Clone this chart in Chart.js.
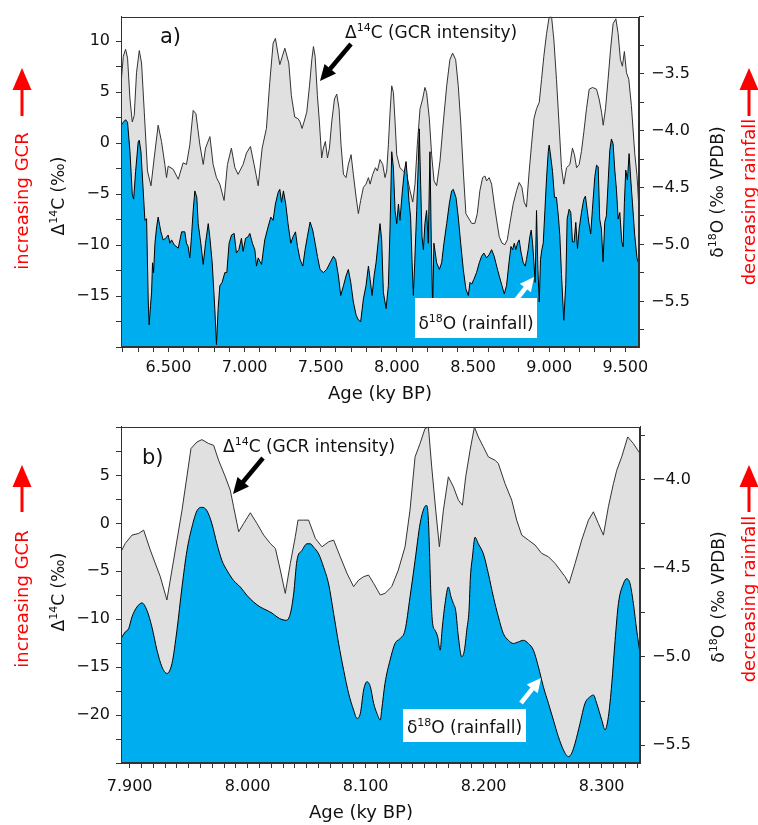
<!DOCTYPE html>
<html lang="en">
<head>
<meta charset="utf-8">
<title>GCR intensity and rainfall</title>
<script src="https://cdn.jsdelivr.net/npm/chart.js"></script>
<style>
  html, body { margin: 0; padding: 0; background: #fff; }
  #wrap { position: relative; width: 758px; height: 825px; }
  canvas { position: absolute; left: 0; }
  #panelA { top: 0; }
  #panelB { top: 410px; }
</style>
</head>
<body>
<div id="wrap">
  <canvas id="panelA" width="758" height="410"></canvas>
  <canvas id="panelB" width="758" height="415"></canvas>
</div>
<script>
// ---------- panel a) 6.2 - 9.6 ky BP ----------
var aAgeC14 = [
  6.188, 6.203, 6.218, 6.231, 6.247, 6.262, 6.275, 6.290, 6.308, 6.323,
  6.341, 6.362, 6.385, 6.406, 6.432, 6.454, 6.476, 6.487, 6.498, 6.531,
  6.564, 6.596, 6.618, 6.640, 6.662, 6.680, 6.706, 6.728, 6.743, 6.772,
  6.793, 6.815, 6.837, 6.865, 6.887, 6.913, 6.936, 6.957, 6.990, 7.012,
  7.038, 7.062, 7.089, 7.115, 7.143, 7.165, 7.187, 7.202, 7.231, 7.264,
  7.290, 7.307, 7.329, 7.351,
  7.364, 7.377, 7.390, 7.408, 7.426, 7.441, 7.452, 7.463, 7.478, 7.491,
  7.506, 7.517, 7.530, 7.544, 7.557, 7.572, 7.590, 7.605, 7.620, 7.633,
  7.649, 7.666, 7.681, 7.699, 7.714, 7.732, 7.747, 7.762, 7.780, 7.797,
  7.813, 7.824, 7.841, 7.859, 7.872, 7.889, 7.907, 7.922, 7.933, 7.944,
  7.955, 7.966, 7.977, 7.988, 7.999, 8.020, 8.042, 8.064, 8.086, 8.104,
  8.119, 8.134, 8.152, 8.169, 8.184, 8.195, 8.213, 8.228, 8.244, 8.261,
  8.283, 8.305, 8.327, 8.348, 8.366, 8.386, 8.403, 8.419, 8.436, 8.453,
  8.491, 8.512, 8.528, 8.545, 8.563, 8.578, 8.589, 8.606, 8.622, 8.639,
  8.655, 8.672, 8.690, 8.709, 8.725, 8.742, 8.764, 8.786, 8.803, 8.821,
  8.836, 8.851, 8.869, 8.884, 8.900, 8.917, 8.935, 8.950, 8.965, 8.983,
  9.000, 9.016, 9.031, 9.048, 9.064, 9.081, 9.096, 9.114, 9.136, 9.153,
  9.166, 9.180, 9.197, 9.212, 9.228, 9.245, 9.263, 9.285, 9.311, 9.328,
  9.344, 9.355, 9.370, 9.387, 9.403, 9.420, 9.438, 9.453, 9.468, 9.481,
  9.494, 9.508, 9.523, 9.540, 9.562, 9.577, 9.591
];
var aC14 = [
  5.77, 8.50, 9.20, 8.33, 4.32, 2.07, 2.71, 6.89, 9.07, 7.85,
  3.03, -2.74, -4.19, -1.46, 1.75, 0.15, -2.10, -3.39, -2.26, -2.58,
  -3.55, -1.94, -2.10, -0.18, 3.20, 2.88, -0.18, -2.10, -0.50, 0.63,
  -2.10, -3.39, -4.03, -5.63, -2.10, -0.50, -2.42, -3.07, -2.10, -0.98,
  -0.34, -2.10, -4.19, -0.50, 1.43, 5.93, 9.78, 10.26, 7.69, 9.30,
  7.85, 4.64, 2.55, 2.39,
  2.07, 1.43, 2.07, 3.03, 5.61, 8.17, 9.46, 8.50, 4.64, 2.07,
  -1.46, -0.50, 0.15, -1.46, -0.50, 2.07, 4.32, 4.80, 3.36, -0.18,
  -3.07, -3.39, -2.10, -1.14, -3.07, -5.31, -6.92, -5.63, -4.35, -4.03,
  -3.39, -4.03, -3.07, -2.42, -2.74, -1.62, -2.10, -3.39, -2.74, -0.18,
  3.03, 5.61, 4.96, 2.07, -1.14, -2.42, -2.74, -3.07, -4.67, -5.79,
  -4.03, -0.18, 3.36, 4.32, 5.45, 4.96, 2.39, -1.14, -3.71, -4.19,
  -1.78, 2.07, 5.61, 8.17, 8.82, 8.17, 5.61, 2.07, -2.74, -6.92,
  -7.88, -7.88, -6.92, -4.67, -3.39, -3.23, -3.71, -3.39, -4.03, -5.96,
  -7.56, -9.17, -9.81, -9.97, -9.49, -7.88, -5.96, -4.67, -3.87, -4.35,
  -5.80, -6.28, -2.74, -0.18, 2.39, 3.36, 4.00, 6.25, 8.50, 10.74,
  12.35, 12.35, 10.10, 6.25, 2.07, -2.42, -4.03, -2.42, -2.10, -0.50,
  -1.14, -2.42, -2.10, -0.82, 1.11, 3.36, 5.28, 5.45, 5.28, 4.32,
  3.03, 1.75, 3.36, 6.25, 9.14, 11.71, 12.19, 10.74, 8.17, 7.53,
  8.98, 6.89, 6.25, 3.68, -1.00, -3.20, -6.80
];
var aAgeO18 = [
  6.187, 6.203, 6.218, 6.231, 6.247, 6.262, 6.271, 6.284, 6.301, 6.308,
  6.319, 6.334, 6.345, 6.356, 6.367, 6.373, 6.382, 6.389, 6.395, 6.402,
  6.411, 6.422, 6.432, 6.450, 6.465, 6.481, 6.498, 6.509, 6.520, 6.537,
  6.564, 6.575, 6.586, 6.607, 6.618, 6.629, 6.640, 6.651, 6.662, 6.673,
  6.686, 6.695, 6.712, 6.728, 6.743, 6.761, 6.771, 6.787, 6.804, 6.815,
  6.826, 6.837, 6.852, 6.870, 6.883, 6.898, 6.914, 6.931, 6.946, 6.962,
  6.979, 6.990, 7.006, 7.023, 7.034, 7.051, 7.067, 7.078, 7.089, 7.100,
  7.111, 7.132, 7.154, 7.172, 7.187, 7.202, 7.220, 7.231, 7.242, 7.255,
  7.270, 7.285, 7.303, 7.318, 7.334, 7.347,
  7.364, 7.382, 7.397, 7.412, 7.430, 7.447, 7.463, 7.478, 7.495, 7.517,
  7.539, 7.561, 7.583, 7.598, 7.616, 7.631, 7.649, 7.666, 7.681, 7.697,
  7.714, 7.732, 7.747, 7.762, 7.780, 7.797, 7.813, 7.824, 7.837, 7.850,
  7.863, 7.876, 7.889, 7.900, 7.911, 7.929, 7.944, 7.955, 7.966, 7.977,
  7.988, 7.999, 8.010, 8.020, 8.036, 8.049, 8.060, 8.069, 8.079, 8.090,
  8.099, 8.108, 8.117, 8.130, 8.141, 8.147, 8.156, 8.165, 8.174, 8.184,
  8.195, 8.206, 8.217, 8.226, 8.235, 8.243, 8.261, 8.279, 8.294, 8.309,
  8.327, 8.344, 8.359, 8.370, 8.388, 8.403, 8.419, 8.436, 8.453, 8.469,
  8.480,
  8.491, 8.506, 8.523, 8.541, 8.556, 8.571, 8.589, 8.606, 8.622, 8.639,
  8.655, 8.672, 8.690, 8.705, 8.720, 8.736, 8.749, 8.760, 8.771, 8.781,
  8.792, 8.803, 8.816, 8.830, 8.843, 8.851, 8.862, 8.873, 8.882, 8.891,
  8.900, 8.908, 8.917, 8.926, 8.935, 8.943, 8.952, 8.961, 8.972, 8.983,
  8.994, 9.000, 9.009, 9.022, 9.035, 9.048, 9.061,
  9.070, 9.081, 9.096, 9.109, 9.118, 9.131, 9.142, 9.153, 9.164, 9.175,
  9.186, 9.197, 9.212, 9.227, 9.238, 9.249, 9.260, 9.273, 9.284, 9.300,
  9.311, 9.322, 9.332, 9.343, 9.354, 9.365, 9.376, 9.387, 9.398, 9.409,
  9.420, 9.431, 9.442, 9.453, 9.464, 9.477, 9.486, 9.494, 9.503, 9.514,
  9.525, 9.536, 9.547, 9.562, 9.577, 9.591
];
var aO18 = [
  -3.956, -3.928, -3.905, -3.928, -4.186, -4.559, -4.602, -4.358, -4.100, -4.085,
  -4.186, -4.530, -4.788, -4.774, -5.505, -5.706, -5.534, -5.419, -5.161, -5.247,
  -4.989, -4.846, -4.760, -4.889, -4.960, -4.946, -4.917, -4.989, -4.960, -5.003,
  -5.032, -4.960, -4.889, -4.889, -4.989, -5.018, -5.118, -4.932, -4.702, -4.530,
  -4.587, -4.817, -4.989, -5.175, -4.989, -4.817, -4.932, -5.161, -5.563, -5.878,
  -5.563, -5.362, -5.333, -5.247, -5.247, -4.989, -4.917, -4.903, -5.075, -5.046,
  -4.946, -5.061, -4.946, -4.932, -4.903, -4.989, -5.046, -5.190, -5.118, -5.147,
  -5.175, -4.960, -4.846, -4.760, -4.788, -4.645, -4.544, -4.516, -4.630, -4.530,
  -4.645, -4.817, -4.989, -4.932, -4.889, -5.018,
  -5.132, -5.190, -5.046, -4.932, -4.803, -4.874, -4.989, -5.104, -5.219, -5.247,
  -5.219, -5.161, -5.104, -5.132, -5.276, -5.448, -5.362, -5.276, -5.219, -5.333,
  -5.505, -5.620, -5.663, -5.678, -5.477, -5.362, -5.190, -5.305, -5.448, -5.276,
  -5.161, -4.989, -4.817, -4.960, -5.419, -5.563, -5.362, -4.846, -4.186, -4.329,
  -4.702, -4.817, -4.645, -4.788, -4.530, -4.358, -4.272, -4.415, -4.616, -4.760,
  -5.132, -5.448, -5.161, -4.702, -4.272, -3.985, -4.473, -4.932, -5.046, -4.817,
  -4.702, -4.989, -4.186, -4.989, -5.563, -4.989, -5.161, -5.219, -5.161, -4.989,
  -4.817, -4.645, -4.530, -4.516, -4.587, -4.760, -4.989, -5.219, -5.391, -5.448,
  -5.333,
  -5.348, -5.305, -5.247, -5.161, -5.104, -5.075, -5.118, -5.089, -5.046, -5.104,
  -5.190, -5.276, -5.362, -5.434, -5.362, -5.161, -5.018, -5.046, -4.989, -5.046,
  -4.989, -4.960, -5.075, -5.161, -5.190, -5.132, -5.046, -4.932, -4.874, -4.989,
  -5.161, -5.333, -4.702, -5.219, -5.505, -5.132, -5.046, -4.989, -4.702, -4.415,
  -4.186, -4.128, -4.215, -4.358, -4.587, -4.587, -4.760,
  -4.920, -5.265, -5.666, -5.351, -4.777, -4.691, -4.720, -4.978, -4.978, -4.806,
  -5.035, -4.863, -4.720, -4.605, -4.576, -4.691, -4.806, -4.906, -4.691, -4.404,
  -4.304, -4.318, -4.777, -4.863, -5.150, -4.806, -4.748, -4.461, -4.175, -4.074,
  -4.117, -4.347, -4.519, -4.777, -4.720, -4.978, -5.021, -4.634, -4.347, -4.433,
  -4.203, -4.433, -4.634, -4.920, -5.121, -5.179
];
var aAgeLabels = [6.5, 7.0, 7.5, 8.0, 8.5, 9.0, 9.5];
var aC14Labels = [-15, -10, -5, 0, 5, 10];
var aO18Labels = [-5.5, -5.0, -4.5, -4.0, -3.5];

// ---------- panel b) 7.9 - 8.33 ky BP ----------
var bAgeC14 = [
  7.8927, 7.8963, 7.9020, 7.9076, 7.9119, 7.9175, 7.9260, 7.9316, 7.9373, 7.9444,
  7.9520, 7.9571, 7.9613, 7.9670, 7.9712, 7.9754, 7.9811, 7.9853, 7.9881, 7.9910,
  7.9924, 7.9966, 8.0023, 8.0079, 8.0136, 8.0192, 8.0235, 8.0277, 8.0319, 8.0362,
  8.0404, 8.0427, 8.0475, 8.0517, 8.0574, 8.0630, 8.0687, 8.0729, 8.0785, 8.0842,
  8.0898, 8.0941, 8.0983, 8.1025, 8.1068, 8.1124, 8.1164, 8.1221, 8.1277, 8.1334,
  8.1376, 8.1419, 8.1461, 8.1503, 8.1532, 8.1560, 8.1594, 8.1625, 8.1659, 8.1701,
  8.1744, 8.1786, 8.1820, 8.1848, 8.1885, 8.1922, 8.1955, 8.1998, 8.2040, 8.2097,
  8.2125, 8.2181, 8.2238, 8.2280, 8.2323, 8.2379, 8.2436, 8.2492, 8.2549, 8.2605,
  8.2648, 8.2690, 8.2724, 8.2775, 8.2831, 8.2888, 8.2930, 8.2972, 8.3015, 8.3057,
  8.3100, 8.3128, 8.3170, 8.3221, 8.3269, 8.3325
];
var bC14 = [
  -2.96, -2.09, -1.22, -1.05, -0.70, -2.78, -5.56, -7.99, -3.83, 1.38,
  7.81, 8.50, 8.74, 8.33, 8.15, 6.59, 4.86, 3.47, 1.73, -0.01,
  -0.87, -0.01, 1.11, -0.01, -1.22, -2.09, -2.61, -4.87, -7.30, -4.17,
  -1.39, 0.34, 0.34, 0.34, -1.57, -2.44, -1.92, -1.74, -3.48, -5.21,
  -6.60, -5.91, -5.56, -5.39, -6.26, -7.47, -7.30, -6.60, -4.87, -2.44,
  1.38, 6.94, 8.33, 9.89, 10.06, 5.90, 1.38, -2.44, 1.38, 4.86,
  3.81, 2.43, 1.90, 4.86, 7.63, 10.06, 9.02, 7.98, 6.94, 6.59,
  6.24, 4.16, 2.43, 0.34, -1.22, -1.74, -2.26, -3.13, -3.48, -4.17,
  -4.87, -5.56, -6.26, -4.17, -1.74, 0.34, 1.21, -0.01, -1.22, 1.73,
  4.16, 5.55, 6.94, 9.02, 8.33, 7.29
];
var bAgeO18 = [
  7.8927, 7.8963, 7.8992, 7.9020, 7.9062, 7.9105, 7.9147, 7.9189, 7.9232, 7.9274,
  7.9316, 7.9359, 7.9401, 7.9444, 7.9486, 7.9528, 7.9571, 7.9613, 7.9655, 7.9698,
  7.9740, 7.9782, 7.9825, 7.9881, 7.9938, 7.9994, 8.0051, 8.0107, 8.0164, 8.0206,
  8.0249, 8.0291, 8.0328, 8.0362, 8.0390, 8.0418, 8.0460, 8.0503, 8.0531, 8.0559,
  8.0602, 8.0644, 8.0686, 8.0729, 8.0771, 8.0814, 8.0856, 8.0898, 8.0927, 8.0955,
  8.0983, 8.1011, 8.1040, 8.1068, 8.1096, 8.1124,
  8.1136, 8.1164, 8.1207, 8.1249, 8.1292, 8.1334, 8.1376, 8.1419, 8.1461, 8.1498,
  8.1518, 8.1532, 8.1554, 8.1568, 8.1588, 8.1611, 8.1631, 8.1650, 8.1673, 8.1701,
  8.1724, 8.1744, 8.1763, 8.1786, 8.1814, 8.1837, 8.1857, 8.1876, 8.1888, 8.1905,
  8.1927, 8.1955, 8.1998, 8.2040, 8.2083, 8.2125, 8.2167, 8.2210, 8.2252, 8.2295,
  8.2337, 8.2379, 8.2422, 8.2464, 8.2506, 8.2549, 8.2591, 8.2633, 8.2676, 8.2718,
  8.2746, 8.2775, 8.2817, 8.2859, 8.2902, 8.2930, 8.2958, 8.3001, 8.3029, 8.3057,
  8.3086, 8.3114, 8.3142, 8.3184, 8.3213, 8.3241, 8.3269, 8.3297, 8.3325
];
var bO18 = [
  -4.897, -4.860, -4.841, -4.775, -4.719, -4.696, -4.738, -4.832, -4.963, -5.057,
  -5.094, -5.038, -4.850, -4.606, -4.400, -4.268, -4.175, -4.156, -4.175, -4.250,
  -4.362, -4.456, -4.512, -4.569, -4.606, -4.653, -4.691, -4.719, -4.738, -4.753,
  -4.775, -4.790, -4.794, -4.756, -4.644, -4.456, -4.400, -4.362, -4.362, -4.381,
  -4.419, -4.494, -4.588, -4.756, -4.925, -5.076, -5.207, -5.301, -5.348, -5.320,
  -5.188, -5.141, -5.169, -5.263, -5.320, -5.357,
  -5.301, -5.151, -5.019, -4.925, -4.897, -4.850, -4.663, -4.456, -4.250, -4.156,
  -4.146, -4.231, -4.663, -4.813, -4.850, -4.888, -4.963, -4.832, -4.700, -4.606,
  -4.663, -4.700, -4.738, -4.888, -5.000, -4.963, -4.850, -4.738, -4.550, -4.437,
  -4.325, -4.362, -4.419, -4.531, -4.663, -4.775, -4.869, -4.907, -4.925, -4.916,
  -4.907, -4.925, -4.963, -5.057, -5.169, -5.263, -5.357, -5.451, -5.526, -5.564,
  -5.545, -5.488, -5.376, -5.263, -5.226, -5.216, -5.263, -5.357, -5.413, -5.338,
  -5.151, -4.907, -4.700, -4.588, -4.559, -4.588, -4.700, -4.850, -4.982
];
var bAgeLabels = [7.9, 8.0, 8.1, 8.2, 8.3];
var bC14Labels = [-20, -15, -10, -5, 0, 5];
var bO18Labels = [-5.5, -5.0, -4.5, -4.0];

Chart.defaults.font.family = '"DejaVu Sans", sans-serif';
var FONT = '"DejaVu Sans", sans-serif';
var GREY = '#e0e0e0', BLUE = '#00aeef', RED = '#ff0000';

function pts(xs, ys) {
  var out = [];
  for (var i = 0; i < xs.length; i++) out.push({x: xs[i], y: ys[i]});
  return out;
}
function fmt(v, d) { return v.toFixed(d).replace('-', '\u2212'); }
function tickCb(labels, d) {
  return function (v) {
    for (var i = 0; i < labels.length; i++) {
      if (Math.abs(labels[i] - v) < 1e-6) return fmt(v, d);
    }
    return '';
  };
}
function axis(pos, min, max, step, labels, digits, size, pad) {
  return {
    type: 'linear', position: pos, min: min, max: max,
    afterFit: function (s) { if (pos === 'bottom') s.height = size; else s.width = size; },
    ticks: { stepSize: step, autoSkip: false, maxRotation: 0, includeBounds: false,
             padding: pad, color: '#111', font: { size: 16 }, callback: tickCb(labels, digits) },
    grid: { drawOnChartArea: false, drawTicks: true, tickLength: 5, color: '#333' },
    border: { display: true, color: '#333' }
  };
}

// text with superscripts: parts = [[text, isSup], ...]
function rich(ctx, parts, x, y, align, size, color) {
  var fN = size + 'px ' + FONT, fS = Math.round(size * 0.64) + 'px ' + FONT;
  var w = 0;
  parts.forEach(function (p) { ctx.font = p[1] ? fS : fN; w += ctx.measureText(p[0]).width; });
  var cx = align === 'center' ? x - w / 2 : (align === 'right' ? x - w : x);
  ctx.textAlign = 'left';
  ctx.textBaseline = 'alphabetic';
  ctx.fillStyle = color;
  parts.forEach(function (p) {
    ctx.font = p[1] ? fS : fN;
    ctx.fillText(p[0], cx, p[1] ? y - size * 0.4 : y);
    cx += ctx.measureText(p[0]).width;
  });
}
function vrich(ctx, parts, cx, cy, size, color) {
  ctx.save();
  ctx.translate(cx, cy);
  ctx.rotate(-Math.PI / 2);
  rich(ctx, parts, 0, size * 0.36, 'center', size, color);
  ctx.restore();
}
function arrow(ctx, x1, y1, x2, y2, color, lw, hl, hw) {
  var a = Math.atan2(y2 - y1, x2 - x1);
  var bx = x2 - hl * Math.cos(a), by = y2 - hl * Math.sin(a);
  ctx.save();
  ctx.strokeStyle = color; ctx.fillStyle = color; ctx.lineWidth = lw;
  ctx.beginPath(); ctx.moveTo(x1, y1); ctx.lineTo(bx + Math.cos(a), by + Math.sin(a)); ctx.stroke();
  ctx.beginPath();
  ctx.moveTo(x2, y2);
  ctx.lineTo(bx + hw / 2 * Math.sin(a), by - hw / 2 * Math.cos(a));
  ctx.lineTo(bx - hw / 2 * Math.sin(a), by + hw / 2 * Math.cos(a));
  ctx.closePath(); ctx.fill();
  ctx.restore();
}

function deco(d) {
  return {
    id: 'deco',
    afterDraw: function (chart) {
      var ctx = chart.ctx, ca = chart.chartArea;
      ctx.save();
      ctx.strokeStyle = '#333'; ctx.lineWidth = 1;
      ctx.strokeRect(Math.round(ca.left) + 0.5, Math.round(ca.top) + 0.5,
                     Math.round(ca.right - ca.left) - 1, Math.round(ca.bottom - ca.top) - 1);
      rich(ctx, [[d.letter, 0]], d.letterX, d.letterY, 'left', 21, '#111');
      vrich(ctx, [['\u0394', 0], ['14', 1], ['C (\u2030)', 0]], d.lt[0], d.lt[1], 17, '#111');
      vrich(ctx, [['\u03b4', 0], ['18', 1], ['O (\u2030 VPDB)', 0]], d.rt[0], d.rt[1], 17, '#111');
      rich(ctx, [['Age (ky BP)', 0]], d.xt[0], d.xt[1], 'center', 18, '#111');
      // red side notes
      vrich(ctx, [['increasing GCR', 0]], d.redL[0], d.redL[1], 18, RED);
      arrow(ctx, d.redL[0], d.redArrow[1], d.redL[0], d.redArrow[0], RED, 3, 22, 19);
      vrich(ctx, [['decreasing rainfall', 0]], d.redR[0], d.redR[1], 18, RED);
      arrow(ctx, d.redR[0], d.redArrow[1], d.redR[0], d.redArrow[0], RED, 3, 22, 19);
      // annotations
      rich(ctx, [['\u0394', 0], ['14', 1], ['C (GCR intensity)', 0]], d.cNote[0], d.cNote[1], 'left', 17, '#111');
      arrow(ctx, d.cArrow[0], d.cArrow[1], d.cArrow[2], d.cArrow[3], '#000', 4.5, 16, 15);
      ctx.fillStyle = '#fff';
      ctx.fillRect(d.oBox[0], d.oBox[1], d.oBox[2], d.oBox[3]);
      rich(ctx, [['\u03b4', 0], ['18', 1], ['O (rainfall)', 0]], d.oBox[0] + d.oBox[2] / 2, d.oText, 'center', 17, '#111');
      arrow(ctx, d.oArrow[0], d.oArrow[1], d.oArrow[2], d.oArrow[3], '#fff', 4.5, 14, 14);
      ctx.restore();
    }
  };
}

function panel(id, c14x, c14y, o18x, o18y, ax, smooth, d) {
  return new Chart(document.getElementById(id), {
    type: 'line',
    data: {
      datasets: [{
        label: '\u039414C',
        data: pts(c14x, c14y),
        xAxisID: 'x', yAxisID: 'yL',
        borderColor: '#333', borderWidth: 1, backgroundColor: GREY,
        fill: 'start', pointRadius: 0, tension: 0, order: 2
      }, {
        label: '\u03b418O',
        data: pts(o18x, o18y),
        xAxisID: 'x', yAxisID: 'yR',
        borderColor: '#000', borderWidth: 1, backgroundColor: BLUE,
        fill: 'start', pointRadius: 0, tension: 0,
        cubicInterpolationMode: smooth ? 'monotone' : 'default', order: 1
      }]
    },
    options: {
      responsive: false, animation: false, events: [],
      layout: { padding: { top: ax.top, left: 0, right: 0, bottom: 0 } },
      plugins: { legend: { display: false }, tooltip: { enabled: false } },
      scales: { x: ax.x, yL: ax.yL, yR: ax.yR }
    },
    plugins: [deco(d)]
  });
}

panel('panelA', aAgeC14, aC14, aAgeO18, aO18, {
  top: 11,
  x: axis('bottom', 6.188, 9.59, 0.1, aAgeLabels, 3, 63, 6),
  yL: axis('left', -20, 12.4, 2.5, aC14Labels, 0, 121, 6),
  yR: axis('right', -5.9, -3.0, 0.25, aO18Labels, 1, 119, 7)
}, false, {
  letter: 'a)', letterX: 160, letterY: 43,
  lt: [58, 196], rt: [717, 192], xt: [380, 399],
  redL: [22, 201], redR: [749, 202], redArrow: [68, 116],
  cNote: [345, 38], cArrow: [351, 44, 320, 81],
  oBox: [415, 298, 122, 40], oText: 329, oArrow: [513, 304, 534, 277]
});

panel('panelB', bAgeC14, bC14, bAgeO18, bO18, {
  top: 16,
  x: axis('bottom', 7.8927, 8.3325, 0.01, bAgeLabels, 3, 62, 9),
  yL: axis('left', -25, 10.1, 2.5, bC14Labels, 0, 121, 6),
  yR: axis('right', -5.6, -3.7, 0.25, bO18Labels, 1, 118, 7)
}, true, {
  letter: 'b)', letterX: 142, letterY: 54,
  lt: [58, 182], rt: [718, 187], xt: [361, 408],
  redL: [22, 189], redR: [749, 189], redArrow: [55, 102],
  cNote: [223, 42], cArrow: [263, 48, 233, 84],
  oBox: [403, 299, 123, 33], oText: 323, oArrow: [521, 293, 541, 268]
});
</script>
</body>
</html>
